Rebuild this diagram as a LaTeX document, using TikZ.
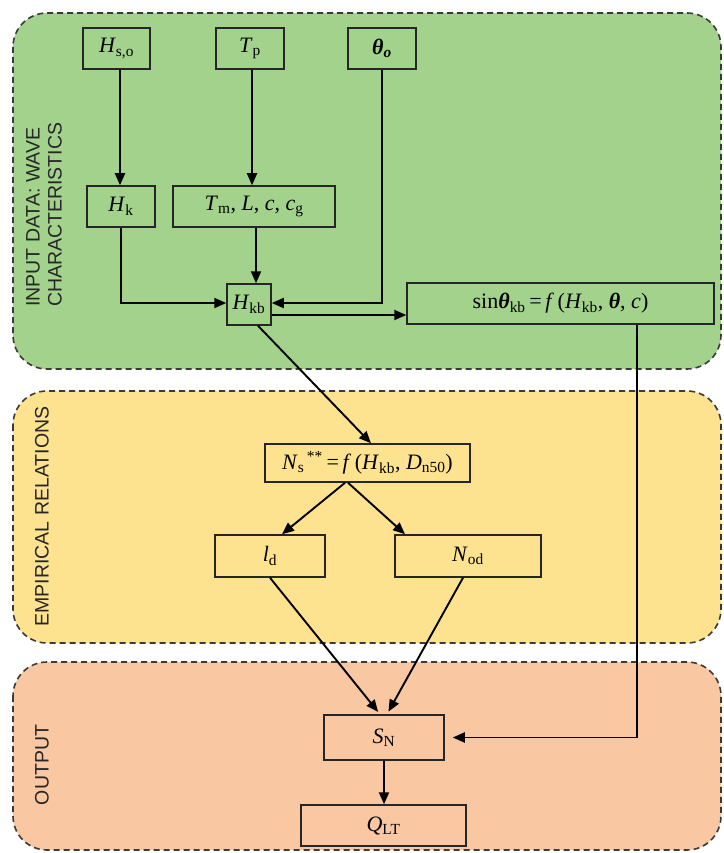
\documentclass[tikz,border=0pt]{standalone}
\usepackage{fontspec}
\setmainfont{Liberation Serif}
\newfontfamily\lblfont{Liberation Sans}
\usetikzlibrary{arrows.meta,calc}
\newcommand{\vi}[1]{\textit{#1}}
\newcommand{\sbs}[1]{\textsubscript{#1}}
\newcommand{\bth}{\textbf{\textit{θ}}}
\definecolor{gfill}{HTML}{A2D28B}
\definecolor{yfill}{HTML}{FDE28F}
\definecolor{ofill}{HTML}{F9C7A2}
\definecolor{bline}{HTML}{3A3A3A}
\tikzset{
  region/.style={draw=bline, line width=1.6pt, dash pattern=on 6pt off 4pt, rounded corners=34pt},
  bx/.style={draw=black!85, line width=1.5pt, inner sep=0pt, font=\fontsize{22}{24}\selectfont},
  conn/.style={line width=1.9pt, draw=black},
  arr/.style={conn, -{Triangle[length=12pt,width=10pt]}},
  lbl/.style={font=\lblfont\fontsize{19.5}{22}\selectfont, text=black!85, rotate=90, inner sep=0pt}
}
\begin{document}
\begin{tikzpicture}[x=1pt,y=-1pt]
\useasboundingbox (0,0) rectangle (723,853);
% regions
\path[region, fill=gfill] (13,13) rectangle (721,369);
\path[region, fill=yfill] (13,391) rectangle (721,643);
\path[region, fill=ofill] (13,662) rectangle (721,850);
% labels
\node[lbl, align=left, anchor=west] (lin) at (44,307) {INPUT DATA: WAVE\\CHARACTERISTICS};
\node[lbl] (lemp) at (42,516.5) {EMPIRICAL RELATIONS};
\node[lbl] (lout) at (42,765) {OUTPUT};
% boxes
\node[bx, minimum width=67pt, minimum height=41pt] (hso) at (116.5,48.5) {\vi{H}\sbs{s,o}};
\node[bx, minimum width=68pt, minimum height=41pt] (tp) at (250,48.5) {\vi{T}\sbs{p}};
\node[bx, minimum width=68pt, minimum height=41pt] (tho) at (382,48.5) {\bth\sbs{\textbf{\textit{o}}}};
\node[bx, minimum width=68pt, minimum height=41pt] (hk) at (121,206.5) {\vi{H}\sbs{k}};
\node[bx, minimum width=162pt, minimum height=41pt] (tm) at (254,206.5) {\vi{T}\sbs{m}, \vi{L}, \vi{c}, \vi{c}\sbs{g}};
\node[bx, minimum width=44pt, minimum height=41pt] (hkb) at (249,304.5) {\vi{H}\sbs{kb}};
\node[bx, minimum width=307pt, minimum height=41pt] (sin) at (560.5,303.5) {sin\bth\sbs{kb}\,=\,\vi{f}\,(\vi{H}\sbs{kb}, \bth, \vi{c})};
\node[bx, minimum width=205pt, minimum height=38pt] (ns) at (367.5,463) {\vi{N}\sbs{s}\textsuperscript{\,**}\,=\,\vi{f}\,(\vi{H}\sbs{kb}, \vi{D}\sbs{n50})};
\node[bx, minimum width=110pt, minimum height=42pt] (ld) at (270,556) {\vi{l}\sbs{d}};
\node[bx, minimum width=146pt, minimum height=42pt] (nod) at (468,556) {\vi{N}\sbs{od}};
\node[bx, minimum width=120pt, minimum height=45pt] (sn) at (384,737.5) {\vi{S}\sbs{N}};
\node[bx, minimum width=165pt, minimum height=41pt] (qlt) at (383.5,825.5) {\vi{Q}\sbs{LT}};
% connectors
\draw[arr] ([xshift=3.5pt]hso.south) -- ([xshift=3.5pt]hso.south |- hk.north);
\draw[arr] ([xshift=2pt]tp.south) -- ([xshift=2pt]tp.south |- tm.north);
\draw[arr] (tho.south) |- ([yshift=1.5pt]hkb.east);
\draw[arr] (hk.south) |- ([yshift=1.5pt]hkb.west);
\draw[arr] ([xshift=2pt]tm.south) -- ([xshift=2pt]tm.south |- hkb.north);
\draw[arr] ([yshift=-10.5pt]hkb.east) -- ([yshift=-10.5pt]hkb.east -| sin.west);
\draw[arr] ([xshift=9pt]hkb.south) -- ([xshift=3.5pt]ns.north);
\draw[arr] ([xshift=-22.5pt]ns.south) -- ([xshift=12pt]ld.north);
\draw[arr] ([xshift=-19.5pt]ns.south) -- ([xshift=-63pt]nod.north);
\draw[arr, shorten >=3pt] (ld.south) -- ([xshift=-4pt]sn.north);
\draw[arr, shorten >=3pt] ([xshift=-5pt]nod.south) -- ([xshift=3pt]sn.north);
\draw[arr, shorten >=8pt] ([xshift=76.5pt]sin.south) |- (sn.east);
\draw[arr] (sn.south) -- (sn.south |- qlt.north);
\end{tikzpicture}
\end{document}
